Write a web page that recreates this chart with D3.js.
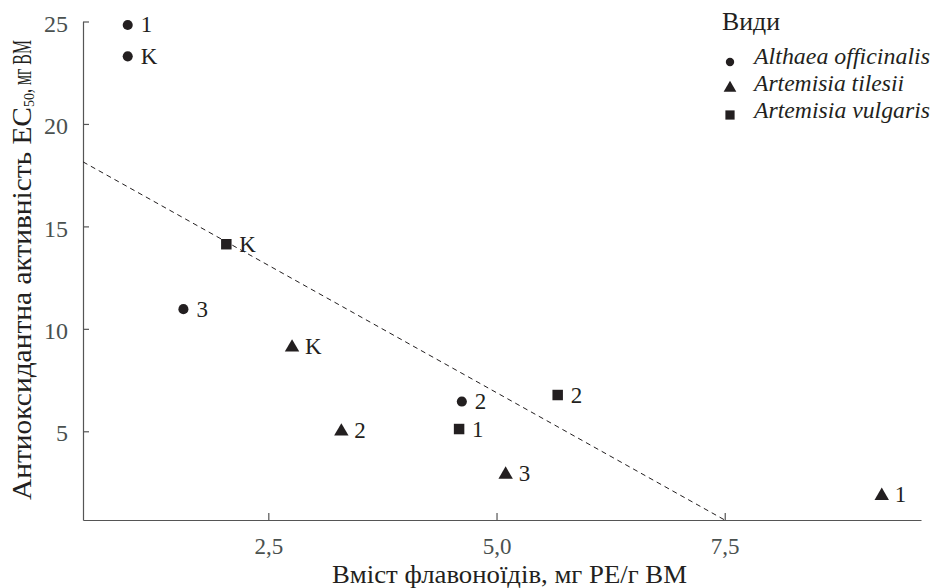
<!DOCTYPE html>
<html>
<head>
<meta charset="utf-8">
<script src="https://cdn.jsdelivr.net/npm/d3@7"></script>
</head>
<body style="margin:0">
<div id="chart"></div>
<script>
// species of each point, content of flavonoids (x), EC50 (y), label
const species = ["Althaea officinalis", "Artemisia tilesii", "Artemisia vulgaris"];
const shapes = ["circle", "triangle", "square"];

const pointSpecies = [0, 0, 0, 0, 1, 1, 1, 1, 2, 2, 2];
const pointX = [0.96, 0.96, 1.57, 4.62, 2.76, 3.30, 5.10, 9.22, 2.04, 4.59, 5.67];
const pointY = [24.83, 23.3, 10.96, 6.45, 9.14, 5.04, 2.93, 1.90, 14.13, 5.11, 6.77];
const pointLabel = ["1", "K", "3", "2", "K", "2", "3", "1", "K", "1", "2"];

// dashed trend line, two end points
const trendX = [0.47, 7.5];
const trendY = [18.15, 0.67];

const xTicks = [2.5, 5.0, 7.5];
const xTickLabels = ["2,5", "5,0", "7,5"];
const yTicks = [5, 10, 15, 20, 25];

const serif = "'Liberation Serif', 'Times New Roman', serif";
const width = 937, height = 588;
const svg = d3.select("#chart").append("svg")
    .attr("width", width)
    .attr("height", height)
    .style("font-family", serif);

const xScale = d3.scaleLinear().domain([0.47, 9.65]).range([83, 921]);
const yScale = d3.scaleLinear().domain([0.67, 25]).range([520, 21.5]);

const axisColor = "#555";
const tickTextColor = "#4a514f";
const ink = "#231f20";

// x axis
const xAxis = svg.append("g")
    .attr("transform", "translate(0," + yScale.range()[0] + ")")
    .call(d3.axisBottom(xScale)
        .tickValues(xTicks)
        .tickFormat((d, i) => xTickLabels[i])
        .tickSizeInner(-7)
        .tickSizeOuter(0)
        .tickPadding(18));
xAxis.attr("font-family", null);
xAxis.select(".domain").attr("stroke", axisColor).attr("stroke-width", 1.2);
xAxis.selectAll(".tick line").attr("stroke", axisColor).attr("stroke-width", 1.2);
xAxis.selectAll(".tick text")
    .attr("fill", tickTextColor)
    .style("font-size", "23px")
    .style("font-family", serif);

// y axis
const yAxis = svg.append("g")
    .attr("transform", "translate(" + xScale.range()[0] + ",0)")
    .call(d3.axisLeft(yScale)
        .tickValues(yTicks)
        .tickSizeInner(-6)
        .tickSizeOuter(0)
        .tickPadding(15));
yAxis.attr("font-family", null);
yAxis.select(".domain").attr("stroke", axisColor).attr("stroke-width", 1.2);
yAxis.selectAll(".tick line").attr("stroke", axisColor).attr("stroke-width", 1.2);
yAxis.selectAll(".tick text")
    .attr("fill", tickTextColor)
    .attr("dy", "0.4em")
    .style("font-size", "24px")
    .style("font-family", serif);

// axis titles
svg.append("text")
    .attr("x", 332)
    .attr("y", 583)
    .attr("textLength", 355)
    .attr("lengthAdjust", "spacingAndGlyphs")
    .attr("fill", ink)
    .style("font-family", serif)
    .style("font-size", "26px")
    .text("Вміст флавоноїдів, мг РЕ/г ВМ");

const yTitle = svg.append("text")
    .attr("transform", "translate(31,500) rotate(-90)")
    .attr("fill", ink)
    .style("font-family", serif)
    .style("font-size", "27px");
yTitle.append("tspan").attr("x", 0).attr("textLength", 393).attr("lengthAdjust", "spacingAndGlyphs")
    .text("Антиоксидантна активність EC");
yTitle.append("tspan").attr("dy", 3).style("font-size", "14px").text("50");
yTitle.append("tspan").attr("dy", -3).attr("textLength", 53).attr("lengthAdjust", "spacingAndGlyphs")
    .text(", мг ВМ");

// trend line
const line = d3.line().x(d => xScale(d[0])).y(d => yScale(d[1]));
svg.append("path")
    .datum(trendX.map((d, i) => [d, trendY[i]]))
    .attr("d", line)
    .attr("fill", "none")
    .attr("stroke", ink)
    .attr("stroke-width", 1)
    .attr("stroke-dasharray", "5,4");

const symbolFor = {
    circle: d3.symbol().type(d3.symbolCircle).size(80),
    triangle: d3.symbol().type(d3.symbolTriangle).size(90),
    square: d3.symbol().type(d3.symbolSquare).size(110)
};

const points = pointX.map((d, i) => ({x: d, y: pointY[i], s: pointSpecies[i], label: pointLabel[i]}));

const pts = svg.append("g").selectAll("g")
    .data(points).enter()
    .append("g")
    .attr("transform", d => "translate(" + xScale(d.x) + "," + yScale(d.y) + ")");

pts.append("path")
    .attr("d", d => symbolFor[shapes[d.s]]())
    .attr("transform", d => shapes[d.s] == "triangle" ? "translate(0,1)" : null)
    .attr("fill", ink);

pts.append("text")
    .attr("x", 13)
    .attr("y", 7.5)
    .attr("fill", ink)
    .style("font-family", serif)
    .style("font-size", "23px")
    .text(d => d.label);

// legend
const legend = svg.append("g");
legend.append("text")
    .attr("x", 722)
    .attr("y", 30)
    .attr("fill", ink)
    .style("font-family", serif)
    .style("font-size", "25px")
    .attr("textLength", 58)
    .attr("lengthAdjust", "spacingAndGlyphs")
    .text("Види");

const legendWidths = [176, 150, 176];
const items = legend.selectAll(".item")
    .data(species).enter()
    .append("g")
    .attr("class", "item")
    .attr("transform", (d, i) => "translate(0," + (64 + i * 27) + ")");

const legendSymbol = {
    circle: d3.symbol().type(d3.symbolCircle).size(55),
    triangle: d3.symbol().type(d3.symbolTriangle).size(70),
    square: d3.symbol().type(d3.symbolSquare).size(85)
};
items.append("path")
    .attr("transform", (d, i) => "translate(730," + (i == 0 ? -2 : -3) + ")")
    .attr("d", (d, i) => legendSymbol[shapes[i]]())
    .attr("fill", ink);
items.append("text")
    .attr("x", 754)
    .attr("y", 0)
    .attr("fill", ink)
    .style("font-family", serif)
    .style("font-size", "23.5px")
    .style("font-style", "italic")
    .attr("textLength", (d, i) => legendWidths[i])
    .attr("lengthAdjust", "spacingAndGlyphs")
    .text(d => d);
</script>
</body>
</html>
